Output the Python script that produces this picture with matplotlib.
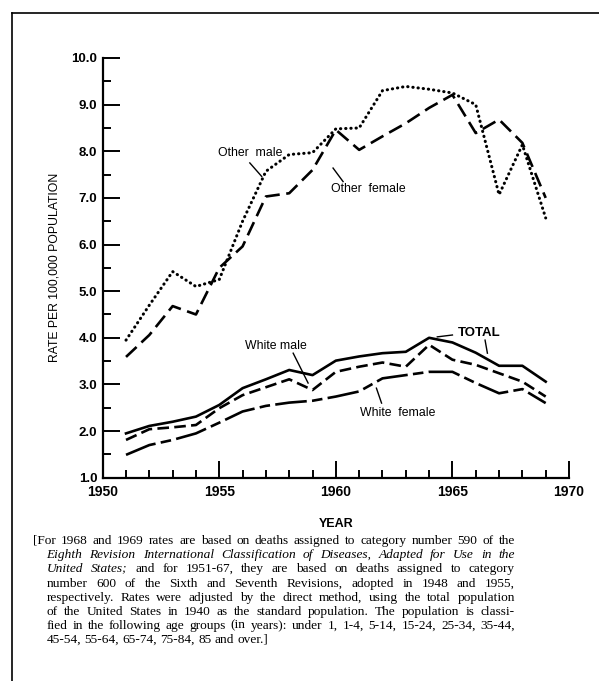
import math
import matplotlib
matplotlib.use('Agg')
import matplotlib.pyplot as plt
from matplotlib.lines import Line2D
from matplotlib.font_manager import FontProperties

years = list(range(1951, 1970))

other_male = [3.95, 4.7, 5.42, 5.1, 5.25, 6.5, 7.57, 7.93, 7.97, 8.48, 8.5, 9.3, 9.39, 9.33, 9.25, 9.0, 7.07, 8.14, 6.57]
other_female = [3.59, 4.06, 4.68, 4.5, 5.5, 5.96, 7.03, 7.1, 7.6, 8.46, 8.03, 8.32, 8.6, 8.93, 9.21, 8.39, 8.68, 8.18, 7.0]
total = [1.95, 2.11, 2.2, 2.31, 2.56, 2.92, 3.11, 3.31, 3.2, 3.51, 3.6, 3.67, 3.7, 4.0, 3.9, 3.68, 3.4, 3.4, 3.06]
white_male = [1.81, 2.04, 2.08, 2.13, 2.49, 2.77, 2.94, 3.11, 2.88, 3.27, 3.38, 3.47, 3.38, 3.85, 3.53, 3.42, 3.24, 3.06, 2.74]
white_female = [1.49, 1.7, 1.81, 1.95, 2.18, 2.42, 2.54, 2.61, 2.65, 2.74, 2.85, 3.13, 3.2, 3.27, 3.27, 3.03, 2.81, 2.9, 2.6]

y_ticks = [1.0, 2.0, 3.0, 4.0, 5.0, 6.0, 7.0, 8.0, 9.0, 10.0]
x_ticks = [1950, 1955, 1960, 1965, 1970]

note_lines = [
    [('[For 1968 and 1969 rates are based on deaths assigned to category number 590 of the', 'normal')],
    [('Eighth Revision International Classification of Diseases, Adapted for Use in the', 'italic')],
    [('United States;', 'italic'), ('and for 1951-67, they are based on deaths assigned to category', 'normal')],
    [('number 600 of the Sixth and Seventh Revisions, adopted in 1948 and 1955,', 'normal')],
    [('respectively. Rates were adjusted by the direct method, using the total population', 'normal')],
    [('of the United States in 1940 as the standard population. The population is classi-', 'normal')],
    [('fied in the following age groups (in years): under 1, 1-4, 5-14, 15-24, 25-34, 35-44,', 'normal')],
    [('45-54, 55-64, 65-74, 75-84, 85 and over.]', 'normal')],
]

W, H = 599, 681
fig = plt.figure(figsize=(W / 100, H / 100), dpi=100)
ax = fig.add_axes([102.7 / W, 1 - 477.7 / H, (569 - 102.7) / W, (477.7 - 58) / H])

ax.plot(years, other_male, color='black', lw=2.2, ls=(0, (0.1, 1.6)), dash_capstyle='round')
ax.plot(years, other_female, color='black', lw=1.9, ls=(0, (5.5, 2.5)))
ax.plot(years, total, color='black', lw=1.9)
ax.plot(years, white_male, color='black', lw=1.9, ls=(0, (4.4, 2)))
ax.plot(years, white_female, color='black', lw=1.9, ls=(0, (12, 2, 4, 2)))

ax.set_xlim(1950, 1970)
ax.set_ylim(1, 10)
ax.spines['top'].set_visible(False)
ax.spines['right'].set_visible(False)
ax.spines['left'].set_linewidth(1.6)
ax.spines['bottom'].set_linewidth(1.6)

ax.set_xticks(x_ticks)
ax.set_xticks(years, minor=True)
ax.set_yticks(y_ticks)
ax.set_yticks([v + 0.5 for v in y_ticks[:-1]], minor=True)
ax.set_yticklabels([f'{v:.1f}' for v in y_ticks])
ax.tick_params(axis='both', which='major', direction='in', length=12, width=1.4, color='black')
ax.tick_params(axis='both', which='minor', direction='in', length=6, width=1.4, color='black')
ax.tick_params(axis='y', which='major', pad=4)
ax.tick_params(axis='x', which='major', pad=5)
for lab in ax.get_xticklabels():
    lab.set_fontfamily('Liberation Sans')
    lab.set_fontweight('bold')
    lab.set_fontsize(10)
for lab in ax.get_yticklabels():
    lab.set_fontfamily('Liberation Sans')
    lab.set_fontweight('bold')
    lab.set_fontsize(9.5)

ax.set_xlabel('YEAR', fontfamily='Liberation Sans', fontweight='bold', fontsize=9, labelpad=14)
ax.set_ylabel('RATE PER 100,000 POPULATION', fontfamily='Liberation Sans', fontsize=8.8, labelpad=8)

lab_kw = dict(fontfamily='Liberation Sans', fontsize=8.8, ha='center', va='center')
ax.text(1956.31, 7.96, 'Other  male', **lab_kw)
ax.plot([1956.31, 1956.82], [7.75, 7.46], color='black', lw=1.0)
ax.text(1961.41, 7.19, 'Other  female', **lab_kw)
ax.plot([1959.88, 1960.31], [7.64, 7.35], color='black', lw=1.0)
ax.text(1957.43, 3.83, 'White male', **lab_kw)
ax.plot([1958.17, 1958.81], [3.67, 3.03], color='black', lw=1.0)
ax.text(1966.17, 4.10, 'TOTAL', fontfamily='Liberation Sans', fontsize=9.5, fontweight='bold', ha='center', va='center')
ax.plot([1964.35, 1965.0], [4.02, 4.06], color='black', lw=1.0)
ax.plot([1966.4, 1966.5], [3.95, 3.67], color='black', lw=1.0)
ax.text(1962.66, 2.39, 'White  female', **lab_kw)
ax.plot([1961.74, 1961.96], [2.92, 2.6], color='black', lw=1.0)

# frame round the figure (only top and left survive in the scan)
fig.add_artist(Line2D([12 / W, 1], [1 - 13 / H, 1 - 13 / H], color='black', lw=1.2))
fig.add_artist(Line2D([12 / W, 12 / W], [0, 1 - 13 / H], color='black', lw=1.2))

# justified footnote, word by word.  Agg rounds (baseline + descent) to a
# whole pixel, so each word is nudged by its own fractional descent to keep
# all baselines of a line on the same pixel row.
fs = 9.6
renderer = fig.canvas.get_renderer()
space = fs * 0.25 * 100 / 72


def frac_descent(word, style):
    try:
        from matplotlib.backends.backend_agg import get_hinting_flag
        prop = FontProperties(family='Liberation Serif', style=style, size=fs)
        font = renderer._prepare_font(prop)
        font.set_text(word, 0, flags=get_hinting_flag())
        d = font.get_descent() / 64.0
        return d - math.floor(d)
    except Exception:
        return 0.0


for i, line in enumerate(note_lines):
    base = round(544 + 14.2 * i) + 0.25
    x0 = 33 if i == 0 else 46.5
    x1 = 515
    words = []
    for chunk, style in line:
        for w in chunk.split(' '):
            words.append((w, style))
    texts = []
    widths = []
    for w, style in words:
        yy = base - frac_descent(w, style)
        t = fig.text(0, 1 - yy / H, w, fontsize=fs, fontfamily='Liberation Serif', style=style,
                     va='baseline', ha='left')
        texts.append(t)
        widths.append(t.get_window_extent(renderer).width)
    if i < len(note_lines) - 1:
        gap = (x1 - x0 - sum(widths)) / (len(words) - 1)
    else:
        gap = space
    x = x0
    for t, wd in zip(texts, widths):
        t.set_x(x / W)
        x += wd + gap

fig.savefig('out.png', dpi=100)
